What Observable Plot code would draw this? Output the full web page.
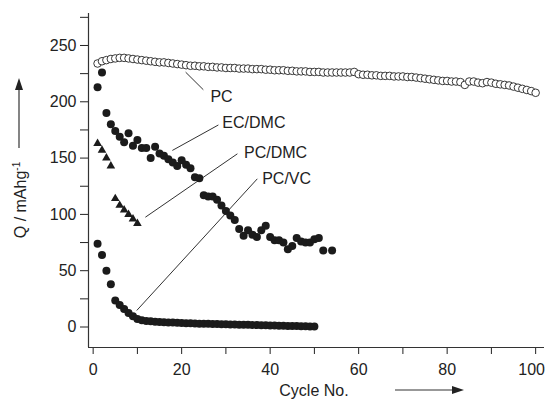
<!DOCTYPE html>
<html><head><meta charset="utf-8">
<script src="https://cdn.jsdelivr.net/npm/d3@7"></script>
<script src="https://cdn.jsdelivr.net/npm/@observablehq/plot@0.6"></script>
<style>body{margin:0;background:#fff;} #chart{width:545px;height:400px;}</style>
</head><body><div id="chart"></div>
<script>
// ---- data ----
const pcCapacity = [234,236,237,238,238.5,239,239,238.5,238,237.5,
  237,236.5,236,235.5,235,235,234.5,234,233.5,233,
  232.5,232,232,231.5,231.5,231,231,230.5,230.5,230,
  230,230,229.5,229.5,229.5,229,229,229,228.5,228.5,
  228,228,228,227.5,227.5,227,227,227,226.5,226.5,
  226.5,226,226,226,226,226,226,226,226.5,224.5,
  224,224,223.5,223.5,223,223,223,222.5,222.5,222.5,
  222,222,221.5,221,220.5,220,219.5,219,218.5,218.5,
  218,218,217.5,215,218,218,217,216.5,217.5,217,
  216,215.5,215,214.5,213.5,212.5,211.5,210.5,209.5,208];
const pcCycle = pcCapacity.map((_, i) => i + 1);

const ecdmcCycle = [1,2,3,4,5,6,7,8,9,10,11,12,13,14,15,16,17,18,19,20,
  21,22,23,24,25,26,27,28,29,30,31,32,33,34,35,36,37,38,39,40,
  41,42,43,44,45,46,47,48,49,50,51,52,54];
const ecdmcCapacity = [213,226,190,180,174,169,164,172,161,166,159,159,150,160,154,152,149,146,143,148,
  144,141,133,132,117,116,116,113,108,103,99,95,87,81,86,82,80,86,90,80,
  77,77,75,69,72,79,76,75,75,78,79,68,68];

const pcdmcCycle = [1,2,3,4,5,6,7,8,9,10];
const pcdmcCapacity = [163,157,150,143,114,108,104,100,96,92];

const pcvcCapacity = [74,64,50,38,23.5,19.5,16,12.5,9.5,7,
  6,5.4,5,4.7,4.5,4.3,4.1,3.9,3.7,3.5,
  3.4,3.3,3.1,3,2.9,2.8,2.7,2.6,2.5,2.4,
  2.3,2.2,2.1,2,1.9,1.8,1.7,1.6,1.5,1.4,
  1.3,1.2,1.1,1,0.9,0.8,0.7,0.6,0.5,0.5];
const pcvcCycle = pcvcCapacity.map((_, i) => i + 1);

const xTicks = [0,10,20,30,40,50,60,70,80,90,100];
const xTickLabels = [0,20,40,60,80,100];
const yTicks = [0,25,50,75,100,125,150,175,200,225,250,275];
const yTickLabels = [0,50,100,150,200,250];
const seriesNames = ["PC","EC/DMC","PC/DMC","PC/VC"];
const xTitle = "Cycle No.";
const yTitle = "Q / mAhg";
const yTitleSup = "-1";

// ---- tables ----
const pc = pcCycle.map((c, i) => ({cycle: c, q: pcCapacity[i]}));
const ecdmc = ecdmcCycle.map((c, i) => ({cycle: c, q: ecdmcCapacity[i]}));
const pcdmc = pcdmcCycle.map((c, i) => ({cycle: c, q: pcdmcCapacity[i]}));
const pcvc = pcvcCycle.map((c, i) => ({cycle: c, q: pcvcCapacity[i]}));

const X0 = -1.05, X1 = 102, Y0 = -18.2, Y1 = 278.4;
const ink = "#1b1b1b";

const labels = [
  {name: seriesNames[0], x: 26.5, y: 204, x1: 20.9, y1: 226.3, x2: 24.9, y2: 210.7},
  {name: seriesNames[1], x: 29.2, y: 181, x1: 17.9, y1: 156.8, x2: 28.3, y2: 179.4},
  {name: seriesNames[2], x: 34.1, y: 155, x1: 11.8, y1: 97.5, x2: 32.6, y2: 153.8},
  {name: seriesNames[3], x: 38.2, y: 131.6, x1: 9.86, y1: 14.7, x2: 37.1, y2: 131.6}
];

const plot = Plot.plot({
  width: 545, height: 400,
  marginLeft: 88, marginRight: 1, marginTop: 13, marginBottom: 53,
  style: {fontFamily: "'Liberation Sans', Arial, sans-serif", fontSize: "16px", color: "#222", background: "#fff", overflow: "visible"},
  x: {domain: [X0, X1], ticks: xTicks, tickSize: 7, tickPadding: 9,
      tickFormat: d => xTickLabels.includes(d) ? String(d) : "", label: null},
  y: {domain: [Y0, Y1], ticks: yTicks, tickSize: 8, tickPadding: 4,
      tickFormat: d => yTickLabels.includes(d) ? String(d) : "", label: null},
  marks: [
    Plot.ruleX([X0], {stroke: "#333", strokeWidth: 1.2}),
    Plot.ruleY([Y0], {stroke: "#333", strokeWidth: 1.2}),
    Plot.link(labels, {x1: "x1", y1: "y1", x2: "x2", y2: "y2", stroke: ink, strokeWidth: 0.9}),
    Plot.text(labels, {x: "x", y: "y", text: "name", textAnchor: "start", fill: "#222", fontSize: 16}),
    Plot.dot(pc, {x: "cycle", y: "q", r: 3.8, fill: "white", stroke: "#222", strokeWidth: 0.9}),
    Plot.dot(pcvc, {x: "cycle", y: "q", r: 4, fill: ink}),
    Plot.dot(ecdmc, {x: "cycle", y: "q", r: 4, fill: ink}),
    Plot.dot(pcdmc, {x: "cycle", y: "q", r: 3.2, symbol: "triangle", fill: ink})
  ]
});
document.getElementById("chart").appendChild(plot);

const svg = d3.select(plot);
// keep the last x tick label inside the page
svg.selectAll("text").filter(function () { return this.textContent === "100" && this.closest("[aria-label='x-axis tick label']"); })
  .attr("dx", -4);

// axis titles with arrows
const yt = svg.append("text")
  .attr("transform", "translate(26,200) rotate(-90)")
  .attr("text-anchor", "middle")
  .attr("font-family", "'Liberation Sans', Arial, sans-serif")
  .attr("font-size", 16).attr("fill", "#222");
yt.append("tspan").text(yTitle);
yt.append("tspan").attr("font-size", 10).attr("dy", -6).text(yTitleSup);
svg.append("line").attr("x1", 19).attr("x2", 19).attr("y1", 148).attr("y2", 88)
  .attr("stroke", "#333").attr("stroke-width", 1.2);
svg.append("path").attr("d", "M19,78 L15,90 L23,90 Z").attr("fill", "#222");

svg.append("text").attr("x", 314).attr("y", 396)
  .attr("font-family", "'Liberation Sans', Arial, sans-serif")
  .attr("font-size", 16).attr("fill", "#222").text(xTitle);
svg.append("line").attr("x1", 395).attr("x2", 455).attr("y1", 390).attr("y2", 390)
  .attr("stroke", "#333").attr("stroke-width", 1.2);
svg.append("path").attr("d", "M464,390 L452,386 L452,394 Z").attr("fill", "#222");
</script>
</body></html>
